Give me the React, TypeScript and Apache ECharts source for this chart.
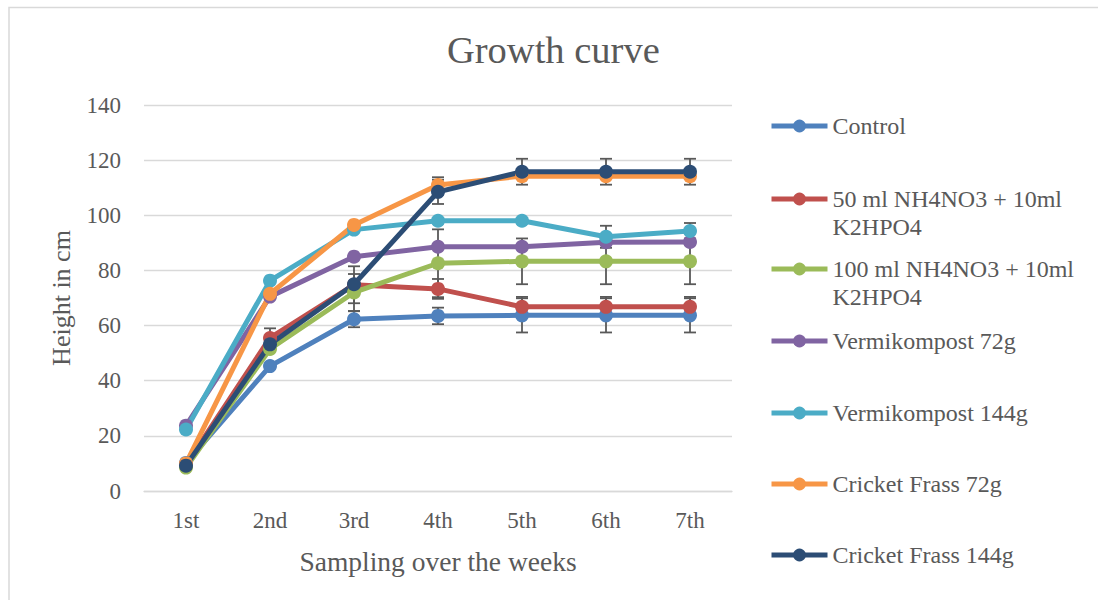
import React, { useEffect, useRef } from "react";
import * as echarts from "echarts";

const categories = ["1st", "2nd", "3rd", "4th", "5th", "6th", "7th"];

const seriesNames = [
  "Control",
  "50 ml NH4NO3 + 10ml K2HPO4",
  "100 ml NH4NO3 + 10ml K2HPO4",
  "Vermikompost 72g",
  "Vermikompost 144g",
  "Cricket Frass 72g",
  "Cricket Frass 144g",
];

const seriesColors = ["#4F81BD", "#C0504D", "#9BBB59", "#8064A2", "#4BACC6", "#F79646", "#2C4D75"];

const control = [10.2, 45.3, 62.3, 63.5, 63.7, 63.7, 63.7];
const nh50 = [9.5, 55.5, 74.8, 73.3, 66.8, 66.8, 66.8];
const nh100 = [8.5, 51.5, 72.0, 82.6, 83.3, 83.3, 83.3];
const vermi72 = [23.7, 70.5, 85.0, 88.6, 88.6, 90.2, 90.3];
const vermi144 = [22.3, 76.3, 94.8, 98.0, 98.0, 92.2, 94.3];
const frass72 = [10.0, 71.5, 96.5, 111.0, 114.2, 114.2, 114.2];
const frass144 = [9.2, 53.2, 75.0, 108.5, 115.8, 115.8, 115.8];

const controlErr = [0, 0, 2.9, 3.0, 6.2, 6.2, 6.2];
const nh50Err = [0, 3.5, 6.7, 3.6, 3.6, 3.6, 3.6];
const nh100Err = [0, 0, 6.7, 12.3, 8.3, 8.3, 8.3];
const vermi72Err = [0, 0, 0, 0, 0, 0, 0];
const vermi144Err = [0, 0, 0, 0, 0, 4.0, 2.9];
const frass72Err = [0, 0, 0, 2.8, 0, 0, 0];
const frass144Err = [0, 0, 0, 4.4, 4.7, 4.7, 4.7];

const yTicks = { min: 0, max: 140, interval: 20 };

const allValues = [control, nh50, nh100, vermi72, vermi144, frass72, frass144];
const allErrors = [controlErr, nh50Err, nh100Err, vermi72Err, vermi144Err, frass72Err, frass144Err];

// legend anchor rows (icon centre y)
const legendRows = [126, 199, 269, 341, 413, 484, 555];

const FONT = "'Liberation Serif', serif";
const TEXT = "#595959";

export default function App() {
  const ref = useRef<HTMLDivElement>(null);
  useEffect(() => {
    if (!ref.current) return;
    const chart = echarts.init(ref.current, null, { renderer: "svg" });

    const lineSeries = seriesNames.map((name, i) => ({
      name,
      type: "line",
      data: allValues[i],
      symbol: "circle",
      symbolSize: 14,
      showSymbol: true,
      z: 3,
      lineStyle: { color: seriesColors[i], width: 5 },
      itemStyle: { color: seriesColors[i] },
      emphasis: { disabled: true },
    }));

    const errSeries = seriesNames.map((name, i) => ({
      name: name + " err",
      type: "custom",
      z: 2,
      silent: true,
      data: allValues[i].map((v, j) => [j, v, allErrors[i][j]]),
      renderItem: (params: any, api: any) => {
        const e = api.value(2);
        if (!e) return null;
        const x = api.value(0);
        const v = api.value(1);
        const top = api.coord([x, v + e]);
        const bot = api.coord([x, v - e]);
        const style = { stroke: TEXT, lineWidth: 1.8 };
        const half = 6;
        return {
          type: "group",
          children: [
            { type: "line", shape: { x1: top[0], y1: top[1], x2: bot[0], y2: bot[1] }, style },
            { type: "line", shape: { x1: top[0] - half, y1: top[1], x2: top[0] + half, y2: top[1] }, style },
            { type: "line", shape: { x1: bot[0] - half, y1: bot[1], x2: bot[0] + half, y2: bot[1] }, style },
          ],
        };
      },
    }));

    const legends = seriesNames.map((name, i) => {
      const twoLine = name.indexOf(" K2HPO4") >= 0;
      const itemH = 16;
      const boxH = twoLine ? 84 : 28;
      return {
        data: [name],
        left: 769,
        top: legendRows[i] - boxH / 2,
        padding: 0,
        itemWidth: 56,
        itemHeight: itemH,
        selectedMode: false,
        lineStyle: { width: 5 },
        formatter: (n: string) => (twoLine ? "\n" + n.replace(" K2HPO4", "\nK2HPO4") : n),
        textStyle: {
          fontFamily: FONT,
          fontSize: 24,
          color: TEXT,
          lineHeight: 28,
        },
      };
    });

    chart.setOption({
      animation: false,
      backgroundColor: "#ffffff",
      title: {
        text: "Growth curve",
        left: 447,
        top: 30,
        padding: 0,
        textStyle: { fontFamily: FONT, fontSize: 38.5, fontWeight: "normal", color: TEXT },
      },
      legend: legends,
      grid: { left: 144, right: 366, top: 105, bottom: 109, containLabel: false },
      xAxis: {
        type: "category",
        data: categories,
        boundaryGap: true,
        axisLine: { show: true, lineStyle: { color: "#d9d9d9", width: 1.3 } },
        axisTick: { show: false },
        axisLabel: { fontFamily: FONT, fontSize: 23, color: TEXT, margin: 18 },
        name: "Sampling over the weeks",
        nameLocation: "middle",
        nameGap: 56,
        nameTextStyle: { fontFamily: FONT, fontSize: 27.5, color: TEXT },
      },
      yAxis: {
        type: "value",
        min: yTicks.min,
        max: yTicks.max,
        interval: yTicks.interval,
        axisLine: { show: false },
        axisTick: { show: false },
        splitLine: { show: true, lineStyle: { color: "#d9d9d9", width: 1.3 } },
        axisLabel: { fontFamily: FONT, fontSize: 23, color: TEXT, margin: 23 },
        name: "Height in cm",
        nameLocation: "middle",
        nameRotate: 90,
        nameGap: 70,
        nameTextStyle: { fontFamily: FONT, fontSize: 26, color: TEXT },
      },
      graphic: [
        {
          type: "rect",
          silent: true,
          shape: { x: 9, y: 7.5, width: 1200, height: 800 },
          style: { fill: "none", stroke: "#d9d9d9", lineWidth: 1.5 },
        },
      ],
      series: [...errSeries, ...lineSeries],
    });

    return () => chart.dispose();
  }, []);

  return (
    <div
      ref={ref}
      style={{ position: "fixed", left: 0, top: 0, width: 1098, height: 600, background: "#fff" }}
    />
  );
}
